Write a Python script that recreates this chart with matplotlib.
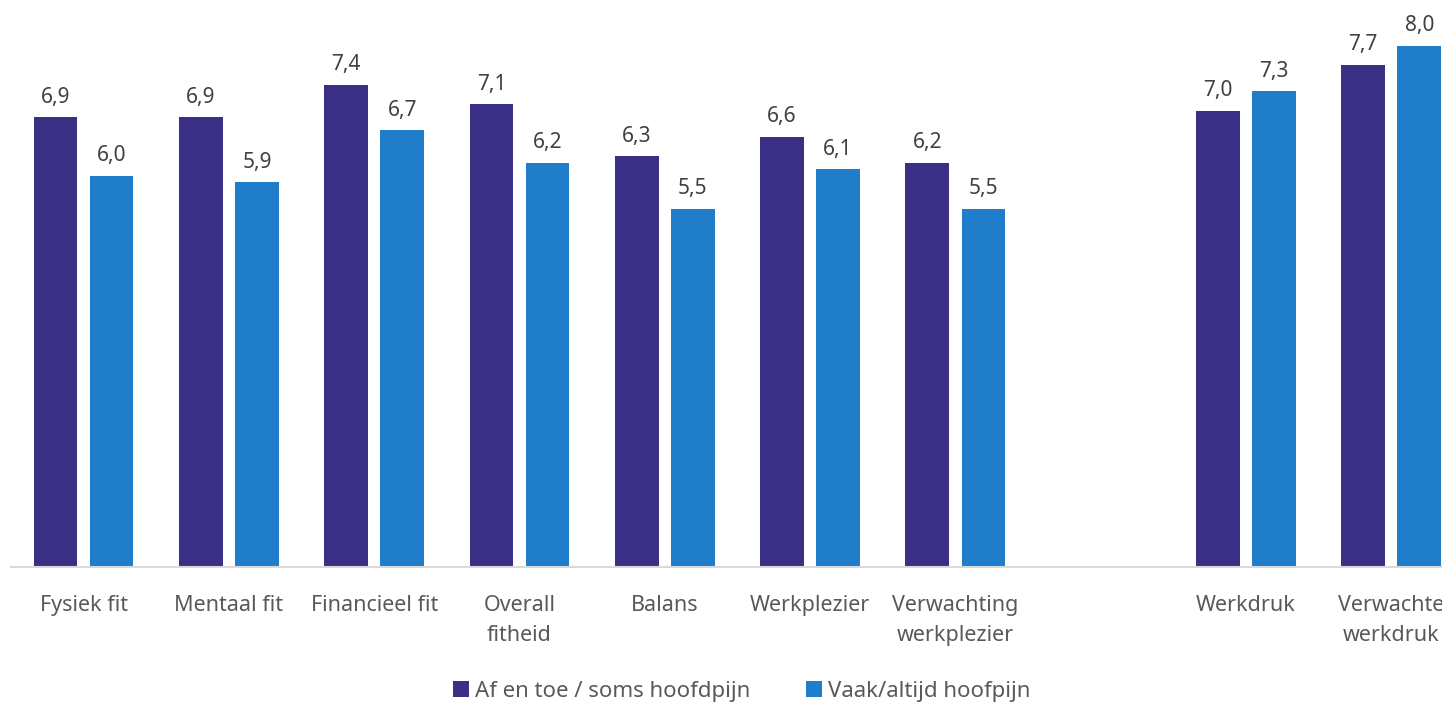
import matplotlib.pyplot as plt
import numpy as np

categories = ["Fysiek fit", "Mentaal fit", "Financieel fit", "Overall\nfitheid", "Balans",
              "Werkplezier", "Verwachting\nwerkplezier", "", "Werkdruk", "Verwachte\nwerkdruk"]
soms = [6.9, 6.9, 7.4, 7.1, 6.3, 6.6, 6.2, None, 7.0, 7.7]
vaak = [6.0, 5.9, 6.7, 6.2, 5.5, 6.1, 5.5, None, 7.3, 8.0]
series_names = ["Af en toe / soms hoofdpijn", "Vaak/altijd hoofpijn"]

purple = "#3a2f87"
blue = "#1f7dc9"
grey_text = "#595959"

plt.rcParams['font.family'] = ['Noto Sans', 'DejaVu Sans']

fig = plt.figure(figsize=(14.42, 7.04), dpi=100)
ax = fig.add_axes([11 / 1442, 137 / 704, 1 - 11 / 1442, 567 / 704])

x = np.arange(len(categories))
width = 0.30
offset = 0.193

for vals, shift, col, name in [(soms, -offset, purple, series_names[0]),
                               (vaak, offset, blue, series_names[1])]:
    xs = [xi + shift for xi, v in zip(x, vals) if v is not None]
    vs = [v for v in vals if v is not None]
    bars = ax.bar(xs, vs, width, color=col, label=name)
    for b, v in zip(bars, vs):
        ax.annotate(f"{v:.1f}".replace(".", ","), (b.get_x() + b.get_width() / 2, v),
                    xytext=(0, 7), textcoords="offset points", ha="center", va="bottom",
                    fontsize=15, color="#404040")

# the last category runs past the right edge of the figure
ax.set_xlim(-0.5, 9.35)
ax.set_ylim(0, 8.7)
ax.set_xticks(x)
ax.set_xticklabels(categories, fontsize=15.5, color=grey_text, linespacing=1.6)
ax.tick_params(axis="x", length=0, pad=20)
ax.set_yticks([])
for s in ["top", "right", "left"]:
    ax.spines[s].set_visible(False)
ax.spines["bottom"].set_color("#d9d9d9")
ax.spines["bottom"].set_linewidth(1.5)

handles, labels = ax.get_legend_handles_labels()
fig.legend(handles, labels, loc="center", bbox_to_anchor=(742 / 1442, 13 / 704), ncol=2,
           frameon=False, fontsize=16, labelcolor=grey_text, handlelength=0.7,
           handleheight=0.7, handletextpad=0.3, columnspacing=2.5)

fig.savefig("out.png", dpi=100)
